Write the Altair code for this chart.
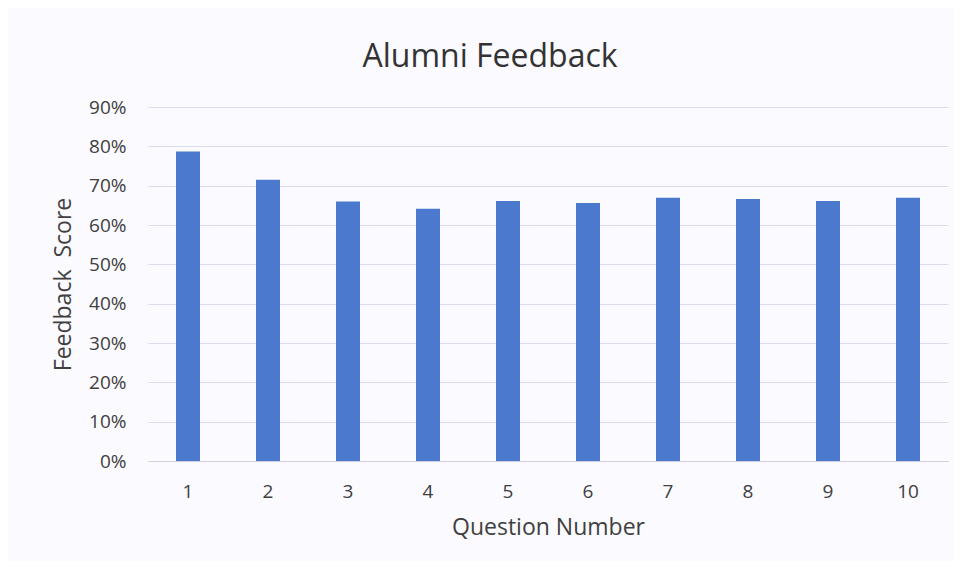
import altair as alt
import pandas as pd

questions = [str(i) for i in range(1, 11)]
scores = [0.787, 0.715, 0.66, 0.641, 0.661, 0.656, 0.669, 0.666, 0.661, 0.669]
y_ticks = [0.0, 0.1, 0.2, 0.3, 0.4, 0.5, 0.6, 0.7, 0.8, 0.9]

df = pd.DataFrame({"Question": questions, "Score": scores})

FONT = "Open Sans"

chart = (
    alt.Chart(df)
    .mark_bar(color="#4a79cd")
    .encode(
        x=alt.X(
            "Question:N",
            sort=questions,
            title="Question Number",
            scale=alt.Scale(paddingInner=0.7, paddingOuter=0.35),
            axis=alt.Axis(
                labelAngle=0,
                labelFontSize=19,
                labelColor="#404040",
                labelFont=FONT,
                labelPadding=21,
                ticks=False,
                domainColor="#cfcfe0",
                domainWidth=1,
                titleFontSize=23,
                titleFont=FONT,
                titleFontWeight="normal",
                titleColor="#404040",
                titlePadding=15,
            ),
        ),
        y=alt.Y(
            "Score:Q",
            title="Feedback\u00a0 Score",
            scale=alt.Scale(domain=[0, 0.9], nice=False),
            axis=alt.Axis(
                values=y_ticks,
                format=".0%",
                labelFontSize=19,
                labelColor="#404040",
                labelFont=FONT,
                labelPadding=22,
                ticks=False,
                domain=False,
                gridColor="#dcdcf0",
                gridWidth=1,
                titleFontSize=23,
                titleFont=FONT,
                titleFontWeight="normal",
                titleColor="#404040",
                titlePadding=13,
            ),
        ),
    )
    .properties(
        width=800,
        height=354,
        title=alt.TitleParams(
            "Alumni Feedback",
            fontSize=32,
            font=FONT,
            fontWeight="normal",
            color="#333333",
            anchor="middle",
            dx=-58,
            offset=24,
        ),
        autosize=alt.AutoSizeParams(type="none"),
        padding={"left": 140, "top": 99, "right": 6, "bottom": 100},
        background="#fbfaff",
    )
    .configure_view(stroke=None)
)

chart.save("out.html", embed_options={"renderer": "svg", "actions": False})
